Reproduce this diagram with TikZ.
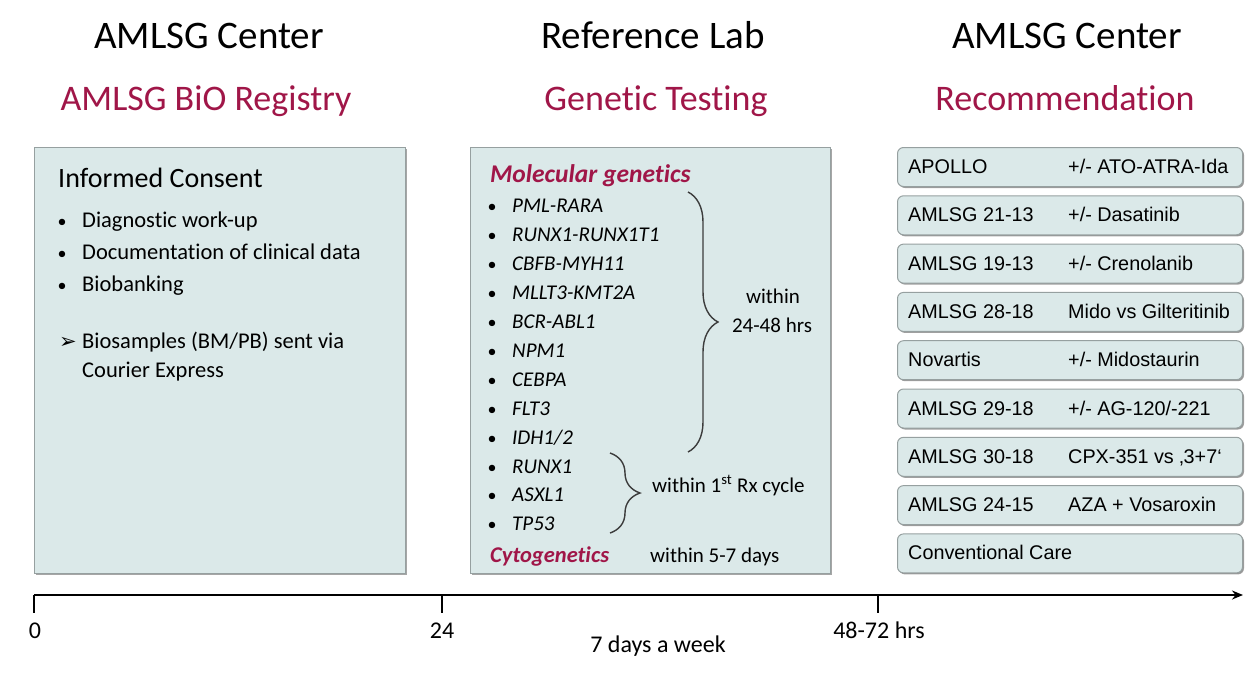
\documentclass[tikz,border=0pt]{standalone}
\usepackage{fontspec}
\setmainfont{Carlito}[Ligatures=NoCommon]
\newfontfamily\arialfont{Liberation Sans}
\newfontfamily\symbfont{DejaVu Sans}
\usetikzlibrary{positioning,shadows,arrows.meta,decorations.pathreplacing}

\definecolor{amlsgred}{RGB}{160,22,72}
\definecolor{panelfill}{RGB}{219,233,233}
\definecolor{panelline}{RGB}{150,160,160}
\definecolor{bracegray}{RGB}{60,60,60}

\tikzset{
  heading/.style={anchor=base, inner sep=0pt, font=\fontsize{39}{44}\selectfont},
  subheading/.style={anchor=base, inner sep=0pt, text=amlsgred, font=\fontsize{36}{40}\selectfont},
  panel/.style={draw=panelline, fill=panelfill, line width=1.2pt, anchor=north west,
    drop shadow={shadow xshift=1.5pt, shadow yshift=-1.5pt, opacity=.7}},
  trialbox/.style={panel, rounded corners=6pt, line width=1pt, minimum width=345pt, minimum height=39pt,
    drop shadow={shadow xshift=1pt, shadow yshift=-1pt, opacity=.4}},
  paneltitle/.style={anchor=base west, inner sep=0pt, font=\fontsize{28}{32}\selectfont},
  bodytext/.style={anchor=base west, inner sep=0pt, font=\fontsize{22.5}{26}\selectfont},
  gene/.style={anchor=base west, inner sep=0pt, font=\fontsize{21}{24}\selectfont\itshape},
  genetext/.style={anchor=base west, inner sep=0pt, font=\fontsize{21}{24}\selectfont},
  redhead/.style={anchor=base west, inner sep=0pt, text=amlsgred, font=\fontsize{22.5}{26}\selectfont\bfseries\itshape},
  dot/.style={anchor=base, inner sep=0pt, font=\fontsize{18}{20}\selectfont},
  trialtext/.style={anchor=base west, inner sep=0pt, font=\arialfont\fontsize{19.8}{22}\selectfont},
  bracestyle/.style={draw=bracegray, line width=1.4pt, decorate, decoration={brace, amplitude=30pt}},
  timeaxis/.style={line width=2.2pt, -{Stealth[length=11pt, width=9pt]}},
  tickmark/.style={line width=1.3pt},
  ticklabel/.style={anchor=base, inner sep=0pt, font=\fontsize{24}{28}\selectfont}
}

\begin{document}
\begin{tikzpicture}[x=1pt, y=-1pt]
  \useasboundingbox (0,0) rectangle (1250,678);

  % Headings
  \node[heading]    (centerA) at (209,48)  {AMLSG Center};
  \node[subheading] (registry) at (206,110) {AMLSG BiO Registry};
  \node[heading]    (reflab)  at (653,48)  {Reference Lab};
  \node[subheading] (testing) at (656,110) {Genetic Testing};
  \node[heading]    (centerB) at (1067,48) {AMLSG Center};
  \node[subheading] (recomm)  at (1065,110) {Recommendation};

  % Panels
  \node[panel, minimum width=371pt, minimum height=426pt] (consent) at (34,147) {};
  \node[panel, minimum width=360pt, minimum height=426pt] (genetic) at (470,147) {};

  % Informed consent
  \node[paneltitle] (ictitle) at (58,187) {Informed Consent};
  \foreach \t [count=\i] in {Diagnostic work-up, Documentation of clinical data, Biobanking} {
    \node[bodytext] (ic\i) at (82,195+32*\i) {\t};
    \node[dot] at (62,195+32*\i) {•};
  }
  \node[bodytext] (bio) at (82,348) {Biosamples (BM/PB) sent via};
  \node[bodytext] (courier) at (82,377) {Courier Express};
  \node[dot, font=\symbfont\fontsize{21}{24}\selectfont] (biomark) at (68,348) {➢};

  % Genetic testing
  \node[redhead, font=\fontsize{25.5}{28}\selectfont\bfseries\itshape] (molgen) at (490,182) {Molecular genetics};
  \foreach \g [count=\i] in {PML-RARA, RUNX1-RUNX1T1, CBFB-MYH11, MLLT3-KMT2A, BCR-ABL1,
      NPM1, CEBPA, FLT3, IDH1/2, RUNX1, ASXL1, TP53} {
    \node[gene] (g\i) at (512,184+28.9*\i) {\g};
    \node[dot] at (492,184+28.9*\i) {•};
  }
  \node[redhead] (cyto) at (490,562) {Cytogenetics};
  \node[genetext] (cytotime) at (650,562) {within 5-7 days};

  % Braces
  \coordinate (bigtop) at (688,192);
  \coordinate (bigbot) at (688,452);
  \draw[bracestyle] (bigtop) -- (bigbot);
  \node[genetext, anchor=base] (within) at (773,303) {within};
  \node[genetext, anchor=base] (hrs) at (772,332) {24-48 hrs};
  \coordinate (smalltop) at (610,453);
  \coordinate (smallbot) at (610,533);
  \draw[bracestyle] (smalltop) -- (smallbot);
  \node[genetext] (rxcycle) at (652,492) {within 1\textsuperscript{st} Rx cycle};

  % Recommendation
  \foreach \n/\d [count=\i from 0] in {APOLLO/{+/- ATO-ATRA-Ida}, AMLSG 21-13/{+/- Dasatinib},
      AMLSG 19-13/{+/- Crenolanib}, AMLSG 28-18/{Mido vs Gilteritinib}, Novartis/{+/- Midostaurin},
      AMLSG 29-18/{+/- AG-120/-221}, AMLSG 30-18/{CPX-351 vs ‚3+7‘}, AMLSG 24-15/{AZA + Vosaroxin},
      Conventional Care/{}} {
    \node[trialbox] (trial\i) at (897,147+48.3*\i) {};
    \node[trialtext] (name\i) at ([xshift=11pt, yshift=-6.5pt]trial\i.west) {\n};
    \node[trialtext] (drug\i) at ([xshift=171pt, yshift=-6.5pt]trial\i.west) {\d};
  }

  % Time line
  \coordinate (t0) at (34,595);
  \coordinate (t24) at (442,595);
  \coordinate (t48) at (878,595);
  \coordinate (tend) at (1243,595);
  \draw[timeaxis] (t0) -- (tend);
  \foreach \c in {t0,t24,t48} \draw[tickmark] (\c) -- ++(0,18);
  \node[ticklabel] (l0) at (35,638) {0};
  \node[ticklabel] (l24) at (442,638) {24};
  \node[ticklabel] (l48) at (879,638) {48-72 hrs};
  \node[ticklabel] (week) at (658,652) {7 days a week};
\end{tikzpicture}
\end{document}
